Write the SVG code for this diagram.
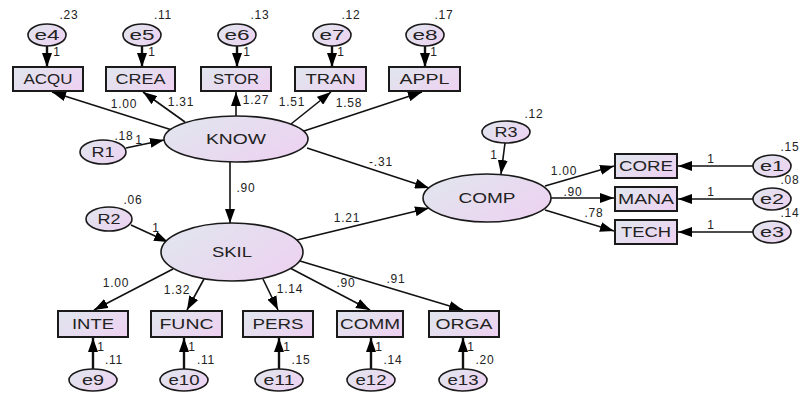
<svg xmlns="http://www.w3.org/2000/svg" width="801" height="396" viewBox="0 0 801 396">
<defs>
<linearGradient id="gr" x1="0" y1="0.2" x2="1" y2="0.8">
<stop offset="0" stop-color="#e1e5ee"/>
<stop offset="1" stop-color="#edd2f1"/>
</linearGradient>
<marker id="ah" markerUnits="userSpaceOnUse" markerWidth="14" markerHeight="10" refX="14" refY="5" orient="auto" viewBox="0 0 14 10">
<path d="M0,0 L14,5 L0,10 z" fill="#000"/>
</marker>
</defs>
<style>
.nd{fill:url(#gr);stroke:#1a1a1a;stroke-width:1.6}
.bx{fill:url(#gr);stroke:#1a1a1a;stroke-width:2}
.lb{font-family:"Liberation Sans",Arial,sans-serif;font-size:14px;fill:#222;text-anchor:middle}
.nm{font-family:"Liberation Sans",Arial,sans-serif;font-size:12px;fill:#222;text-anchor:middle;letter-spacing:0.8px}
.ln{stroke:#111;stroke-width:1.6;fill:none;marker-end:url(#ah)}
.lt{stroke:#111;stroke-width:2.4;fill:none;marker-end:url(#ah)}
</style>
<rect width="801" height="396" fill="#fff"/>

<g id="connectors">
<line class="lt" x1="47" y1="46" x2="47" y2="67"/>
<line class="lt" x1="142" y1="46" x2="142" y2="67"/>
<line class="lt" x1="237" y1="46" x2="237" y2="67"/>
<line class="lt" x1="332" y1="46" x2="332" y2="67"/>
<line class="lt" x1="425" y1="46" x2="425" y2="67"/>
<line class="ln" x1="172" y1="130" x2="52" y2="92"/>
<line class="ln" x1="185" y1="122" x2="143" y2="92"/>
<line class="ln" x1="236" y1="116" x2="236" y2="92"/>
<line class="ln" x1="291" y1="124" x2="331" y2="92"/>
<line class="ln" x1="304" y1="131" x2="422" y2="92"/>
<line class="ln" x1="126" y1="148" x2="164" y2="140"/>
<line class="ln" x1="230" y1="162" x2="230" y2="223"/>
<line class="ln" x1="307" y1="148" x2="429" y2="188"/>
<line class="ln" x1="297" y1="240" x2="429" y2="208"/>
<line class="ln" x1="131" y1="225" x2="168" y2="242"/>
<line class="ln" x1="505" y1="143" x2="501" y2="174"/>
<line class="ln" x1="545" y1="186" x2="614" y2="166"/>
<line class="ln" x1="551" y1="198" x2="614" y2="198"/>
<line class="ln" x1="545" y1="210" x2="614" y2="231"/>
<line class="ln" x1="753" y1="166" x2="678" y2="166"/>
<line class="ln" x1="753" y1="199" x2="678" y2="199"/>
<line class="ln" x1="753" y1="232" x2="678" y2="232"/>
<line class="ln" x1="173" y1="269" x2="94" y2="310"/>
<line class="ln" x1="204" y1="279" x2="187" y2="310"/>
<line class="ln" x1="263" y1="279" x2="278" y2="310"/>
<line class="ln" x1="290" y1="268" x2="370" y2="310"/>
<line class="ln" x1="300" y1="261" x2="463" y2="310"/>
<line class="lt" x1="93" y1="369" x2="93" y2="338"/>
<line class="lt" x1="184" y1="369" x2="184" y2="338"/>
<line class="lt" x1="279" y1="369" x2="279" y2="338"/>
<line class="lt" x1="371" y1="369" x2="371" y2="338"/>
<line class="lt" x1="463" y1="369" x2="463" y2="338"/>
<g class="nm">
<text x="124" y="108">1.00</text>
<text x="181" y="106">1.31</text>
<text x="256" y="104">1.27</text>
<text x="292" y="106">1.51</text>
<text x="349" y="107">1.58</text>
<text x="246" y="192">.90</text>
<text x="381" y="166">-.31</text>
<text x="347" y="222">1.21</text>
<text x="564" y="175">1.00</text>
<text x="573" y="196">.90</text>
<text x="594" y="217">.78</text>
<text x="116" y="287">1.00</text>
<text x="177" y="294">1.32</text>
<text x="290" y="293">1.14</text>
<text x="346" y="287">.90</text>
<text x="396" y="283">.91</text>
<text x="57" y="56">1</text>
<text x="152" y="56">1</text>
<text x="247" y="56">1</text>
<text x="341" y="56">1</text>
<text x="434" y="56">1</text>
<text x="139" y="144">1</text>
<text x="156" y="232">1</text>
<text x="494" y="159">1</text>
<text x="711" y="163">1</text>
<text x="711" y="196">1</text>
<text x="711" y="229">1</text>
<text x="101" y="351">1</text>
<text x="192" y="351">1</text>
<text x="287" y="351">1</text>
<text x="379" y="351">1</text>
<text x="471" y="351">1</text>
</g>
</g>

<g id="e4"><ellipse class="nd" cx="47" cy="35" rx="19" ry="11"/><text class="lb" x="47" y="40" textLength="25" lengthAdjust="spacingAndGlyphs">e4</text><text class="nm" x="69" y="19">.23</text></g>
<g id="e5"><ellipse class="nd" cx="142" cy="35" rx="19" ry="11"/><text class="lb" x="142" y="40" textLength="25" lengthAdjust="spacingAndGlyphs">e5</text><text class="nm" x="163" y="19">.11</text></g>
<g id="e6"><ellipse class="nd" cx="237" cy="35" rx="19" ry="11"/><text class="lb" x="237" y="40" textLength="25" lengthAdjust="spacingAndGlyphs">e6</text><text class="nm" x="260" y="19">.13</text></g>
<g id="e7"><ellipse class="nd" cx="332" cy="35" rx="19" ry="11"/><text class="lb" x="332" y="40" textLength="25" lengthAdjust="spacingAndGlyphs">e7</text><text class="nm" x="351" y="19">.12</text></g>
<g id="e8"><ellipse class="nd" cx="425" cy="35" rx="19" ry="11"/><text class="lb" x="425" y="40" textLength="25" lengthAdjust="spacingAndGlyphs">e8</text><text class="nm" x="444" y="19">.17</text></g>

<g id="ACQU"><rect class="bx" x="13" y="67" width="70" height="24"/><text class="lb" x="48" y="84" textLength="49" lengthAdjust="spacingAndGlyphs">ACQU</text></g>
<g id="CREA"><rect class="bx" x="106" y="67" width="69" height="24"/><text class="lb" x="140.5" y="84" textLength="50" lengthAdjust="spacingAndGlyphs">CREA</text></g>
<g id="STOR"><rect class="bx" x="201" y="67" width="70" height="24"/><text class="lb" x="236" y="84" textLength="46" lengthAdjust="spacingAndGlyphs">STOR</text></g>
<g id="TRAN"><rect class="bx" x="295" y="67" width="71" height="24"/><text class="lb" x="330.5" y="84" textLength="50" lengthAdjust="spacingAndGlyphs">TRAN</text></g>
<g id="APPL"><rect class="bx" x="389" y="67" width="71" height="24"/><text class="lb" x="424.5" y="84" textLength="50" lengthAdjust="spacingAndGlyphs">APPL</text></g>

<g id="KNOW"><ellipse class="nd" cx="236" cy="139" rx="72" ry="23"/><text class="lb" x="236" y="144" textLength="60" lengthAdjust="spacingAndGlyphs">KNOW</text></g>
<g id="R1"><ellipse class="nd" cx="103" cy="152" rx="23" ry="12"/><text class="lb" x="103" y="157" textLength="23" lengthAdjust="spacingAndGlyphs">R1</text><text class="nm" x="124" y="140">.18</text></g>

<g id="SKIL"><ellipse class="nd" cx="232" cy="252" rx="71" ry="29"/><text class="lb" x="232" y="257" textLength="40" lengthAdjust="spacingAndGlyphs">SKIL</text></g>
<g id="R2"><ellipse class="nd" cx="109" cy="219" rx="23" ry="12"/><text class="lb" x="109" y="224" textLength="23" lengthAdjust="spacingAndGlyphs">R2</text><text class="nm" x="133" y="204">.06</text></g>

<g id="COMP"><ellipse class="nd" cx="487" cy="198" rx="64" ry="24"/><text class="lb" x="487" y="203" textLength="57" lengthAdjust="spacingAndGlyphs">COMP</text></g>
<g id="R3"><ellipse class="nd" cx="506" cy="132" rx="24" ry="11"/><text class="lb" x="506" y="137" textLength="23" lengthAdjust="spacingAndGlyphs">R3</text><text class="nm" x="534" y="118">.12</text></g>

<g id="CORE"><rect class="bx" x="615" y="154" width="62" height="24"/><text class="lb" x="646" y="171" textLength="54" lengthAdjust="spacingAndGlyphs">CORE</text></g>
<g id="MANA"><rect class="bx" x="615" y="187" width="62" height="24"/><text class="lb" x="646" y="204" textLength="56" lengthAdjust="spacingAndGlyphs">MANA</text></g>
<g id="TECH"><rect class="bx" x="615" y="220" width="62" height="24"/><text class="lb" x="646" y="237" textLength="50" lengthAdjust="spacingAndGlyphs">TECH</text></g>

<g id="e1"><ellipse class="nd" cx="772" cy="166" rx="19" ry="11"/><text class="lb" x="772" y="171" textLength="24" lengthAdjust="spacingAndGlyphs">e1</text><text class="nm" x="790" y="151">.15</text></g>
<g id="e2"><ellipse class="nd" cx="772" cy="199" rx="19" ry="11"/><text class="lb" x="772" y="204" textLength="24" lengthAdjust="spacingAndGlyphs">e2</text><text class="nm" x="790" y="184">.08</text></g>
<g id="e3"><ellipse class="nd" cx="772" cy="232" rx="19" ry="11"/><text class="lb" x="772" y="237" textLength="24" lengthAdjust="spacingAndGlyphs">e3</text><text class="nm" x="790" y="217">.14</text></g>

<g id="INTE"><rect class="bx" x="58" y="311" width="70" height="26"/><text class="lb" x="93" y="329" textLength="42" lengthAdjust="spacingAndGlyphs">INTE</text></g>
<g id="FUNC"><rect class="bx" x="151" y="311" width="71" height="26"/><text class="lb" x="186.5" y="329" textLength="54" lengthAdjust="spacingAndGlyphs">FUNC</text></g>
<g id="PERS"><rect class="bx" x="243" y="311" width="70" height="26"/><text class="lb" x="278" y="329" textLength="51" lengthAdjust="spacingAndGlyphs">PERS</text></g>
<g id="COMM"><rect class="bx" x="337" y="311" width="66" height="26"/><text class="lb" x="370" y="329" textLength="60" lengthAdjust="spacingAndGlyphs">COMM</text></g>
<g id="ORGA"><rect class="bx" x="429" y="311" width="70" height="26"/><text class="lb" x="464" y="329" textLength="57" lengthAdjust="spacingAndGlyphs">ORGA</text></g>

<g id="e9"><ellipse class="nd" cx="93" cy="380" rx="24" ry="11"/><text class="lb" x="93" y="385" textLength="22" lengthAdjust="spacingAndGlyphs">e9</text><text class="nm" x="114" y="364">.11</text></g>
<g id="e10"><ellipse class="nd" cx="184" cy="380" rx="24" ry="11"/><text class="lb" x="184" y="385" textLength="31" lengthAdjust="spacingAndGlyphs">e10</text><text class="nm" x="206" y="364">.11</text></g>
<g id="e11"><ellipse class="nd" cx="279" cy="380" rx="24" ry="11"/><text class="lb" x="279" y="385" textLength="31" lengthAdjust="spacingAndGlyphs">e11</text><text class="nm" x="301" y="364">.15</text></g>
<g id="e12"><ellipse class="nd" cx="371" cy="380" rx="24" ry="11"/><text class="lb" x="371" y="385" textLength="31" lengthAdjust="spacingAndGlyphs">e12</text><text class="nm" x="393" y="364">.14</text></g>
<g id="e13"><ellipse class="nd" cx="463" cy="380" rx="24" ry="11"/><text class="lb" x="463" y="385" textLength="31" lengthAdjust="spacingAndGlyphs">e13</text><text class="nm" x="485" y="364">.20</text></g>
</svg>
